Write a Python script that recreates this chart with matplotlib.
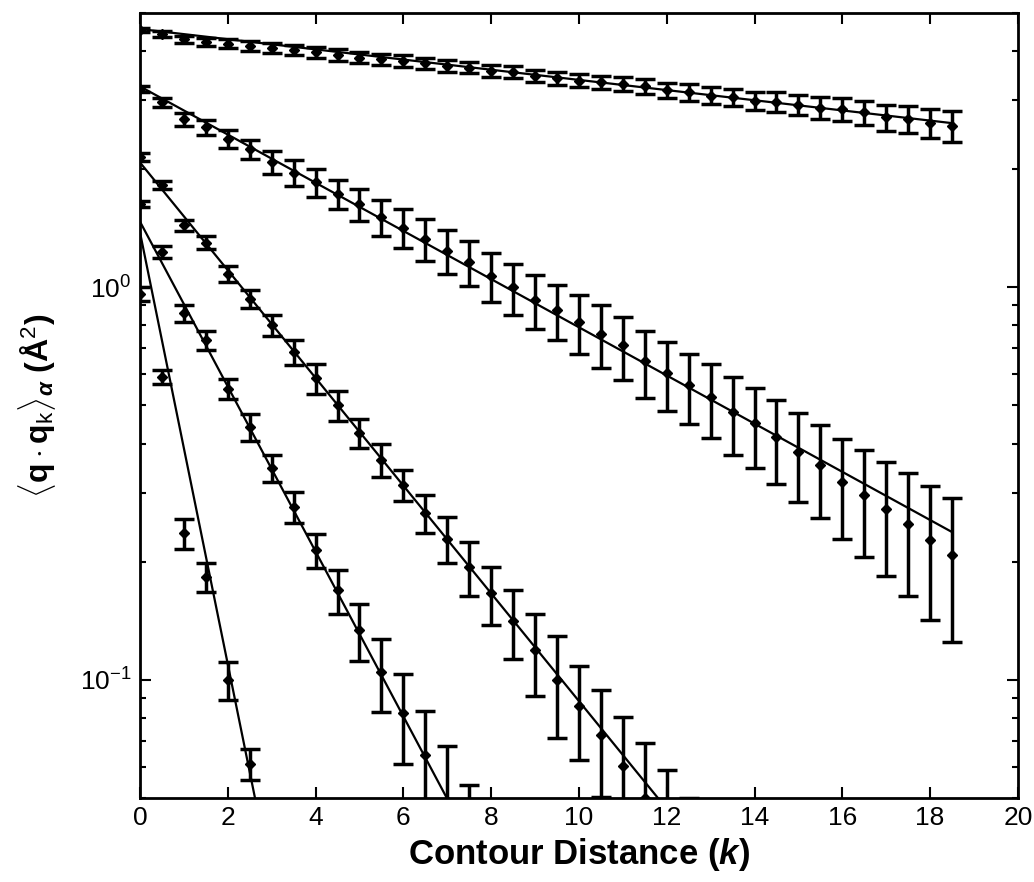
import numpy as np
import matplotlib
matplotlib.use("Agg")
import matplotlib.pyplot as plt
from matplotlib.ticker import LogLocator, FixedLocator

plt.rcParams.update({
    'font.family': ['Liberation Sans', 'DejaVu Sans'],
    'mathtext.fontset': 'custom',
    'mathtext.rm': 'Liberation Sans',
    'mathtext.it': 'Liberation Sans:italic:bold',
    'mathtext.bf': 'Liberation Sans:bold',
})

# contour distance k (data points every 0.5)
k_all = np.arange(0, 19, 0.5)

# series A (slowest decay)
a_val = [4.53, 4.42, 4.29, 4.21, 4.17, 4.12, 4.08, 4.02, 3.97, 3.91, 3.85, 3.81, 3.78,
         3.72, 3.67, 3.63, 3.56, 3.54, 3.46, 3.41, 3.36, 3.33, 3.30, 3.25, 3.18, 3.14,
         3.08, 3.05, 2.99, 2.97, 2.92, 2.87, 2.85, 2.79, 2.71, 2.68, 2.62, 2.58]
a_err = [0.06, 0.08, 0.09, 0.10, 0.11, 0.11, 0.12, 0.12, 0.13, 0.13, 0.13, 0.13, 0.13,
         0.13, 0.13, 0.12, 0.12, 0.12, 0.12, 0.13, 0.13, 0.13, 0.14, 0.14, 0.14, 0.15,
         0.15, 0.16, 0.16, 0.17, 0.17, 0.18, 0.19, 0.20, 0.21, 0.21, 0.22, 0.23]

# series B
b_val = [3.20, 2.96, 2.68, 2.56, 2.39, 2.25, 2.08, 1.96, 1.85, 1.73, 1.63, 1.51, 1.42,
         1.33, 1.24, 1.16, 1.07, 1.00, 0.93, 0.874, 0.816, 0.762, 0.712, 0.648, 0.605,
         0.563, 0.526, 0.482, 0.450, 0.416, 0.381, 0.352, 0.320, 0.296, 0.272, 0.250,
         0.227, 0.208]
b_err = [0.05, 0.08, 0.10, 0.11, 0.12, 0.13, 0.14, 0.145, 0.15, 0.15, 0.155, 0.16, 0.16,
         0.16, 0.16, 0.155, 0.15, 0.15, 0.145, 0.14, 0.14, 0.138, 0.13, 0.125, 0.12,
         0.115, 0.112, 0.108, 0.104, 0.10, 0.097, 0.094, 0.092, 0.09, 0.088, 0.086,
         0.085, 0.083]

# series C
c_val = [2.15, 1.82, 1.44, 1.30, 1.08, 0.936, 0.80, 0.685, 0.586, 0.501, 0.426, 0.364,
         0.314, 0.266, 0.229, 0.194, 0.166, 0.141, 0.119, 0.100, 0.0856, 0.0724, 0.0602,
         0.050, 0.040, 0.032]
c_err = [0.05, 0.043, 0.045, 0.048, 0.05, 0.05, 0.049, 0.05, 0.052, 0.044, 0.036, 0.036,
         0.029, 0.03, 0.031, 0.03, 0.028, 0.028, 0.028, 0.029, 0.023, 0.022, 0.02, 0.019,
         0.019, 0.018]

# series D
d_val = [1.63, 1.23, 0.858, 0.733, 0.552, 0.441, 0.346, 0.276, 0.214, 0.169, 0.134,
         0.105, 0.0822, 0.0645, 0.049, 0.035]
d_err = [0.03, 0.042, 0.041, 0.042, 0.033, 0.034, 0.027, 0.025, 0.021, 0.022, 0.022,
         0.022, 0.021, 0.019, 0.019, 0.019]

# series E (fastest decay)
e_val = [0.963, 0.59, 0.236, 0.183, 0.10, 0.0612]
e_err = [0.038, 0.024, 0.021, 0.016, 0.011, 0.0055]

# exponential fit lines, straight on the log axis: end points (k, value)
fit_k_end = [18.5, 18.5, 11.8, 6.99, 2.62]
fit_v_start = [4.55, 3.25, 2.08, 1.47, 1.38]
fit_v_end = [2.62, 0.238, 0.05, 0.05, 0.05]

series = [(a_val, a_err), (b_val, b_err), (c_val, c_err), (d_val, d_err), (e_val, e_err)]

fig = plt.figure(figsize=(10.34, 8.82), dpi=100)
ax = fig.add_axes([0.1354, 0.0952, 0.849, 0.8901])

for k_end, v0, v1 in zip(fit_k_end, fit_v_start, fit_v_end):
    ax.plot([0, k_end], [v0, v1], color='black', linewidth=1.6, zorder=2)

for vals, errs in series:
    kk = k_all[:len(vals)]
    ax.errorbar(kk, vals, yerr=errs, fmt='D', color='black', markersize=5.5,
                elinewidth=2.5, capsize=7.2, capthick=2.5, zorder=3)

ax.set_yscale('log')
ax.set_xlim(0, 20)
ax.set_ylim(0.05, 5)
ax.xaxis.set_major_locator(FixedLocator(np.arange(0, 21, 2)))
ax.yaxis.set_major_locator(LogLocator(base=10, numticks=10))
ax.yaxis.set_minor_locator(LogLocator(base=10, subs=np.arange(2, 10), numticks=10))

ax.tick_params(which='both', direction='in', top=True, right=True, width=1.5)
ax.tick_params(which='major', length=8, labelsize=19, pad=6)
ax.tick_params(which='minor', length=4)
for s in ax.spines.values():
    s.set_linewidth(2)

ax.set_xlabel(r'Contour Distance ($k$)', fontsize=25, fontweight='bold', labelpad=4)
ax.set_ylabel(r'$\langle\mathbf{q}\cdot\mathbf{q}_{\mathrm{k}}\rangle_{\alpha}$ (Å$^2$)',
              fontsize=23, fontweight='bold', labelpad=16)

fig.savefig('out.png', dpi=100)
